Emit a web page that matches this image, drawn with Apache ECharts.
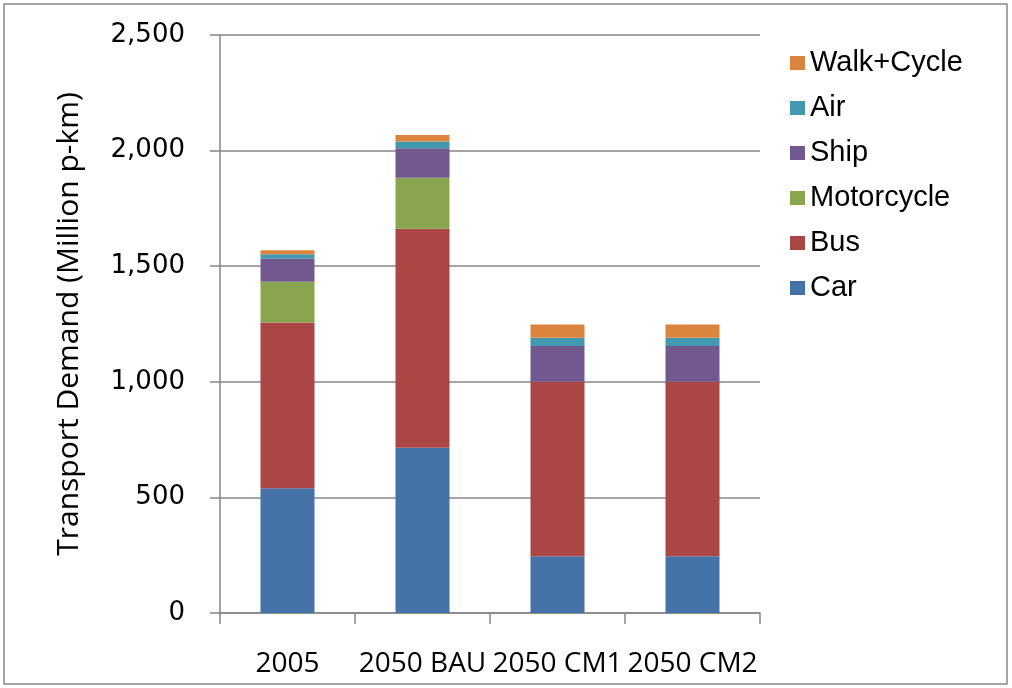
<!DOCTYPE html>
<html>
<head>
<meta charset="utf-8">
<script src="https://cdn.jsdelivr.net/npm/echarts@6/dist/echarts.min.js"></script>
<style>
  html, body { margin: 0; padding: 0; background: #fff; }
  #chart { width: 1012px; height: 688px; }
</style>
</head>
<body>
<div id="chart"></div>
<script>
// scenarios on the x axis
const scenarios = ["2005", "2050 BAU", "2050 CM1", "2050 CM2"];

// transport demand by mode, million p-km
const car = [540, 715, 245, 245];
const bus = [716, 947, 755, 755];
const motorcycle = [177, 221, 0, 0];
const ship = [99, 127, 155, 155];
const air = [20, 29, 36, 36];
const walkCycle = [17, 29, 57, 57];

const modeNames = ["Car", "Bus", "Motorcycle", "Ship", "Air", "Walk+Cycle"];
const modeColors = ["#4572A7", "#AA4643", "#89A54E", "#71588F", "#4198AF", "#DB843D"];
const modeValues = [car, bus, motorcycle, ship, air, walkCycle];

const chart = echarts.init(document.getElementById("chart"));

const series = modeNames.map(function (name, i) {
  return {
    name: name,
    type: "bar",
    stack: "total",
    barWidth: "40%",
    itemStyle: { color: modeColors[i] },
    data: modeValues[i],
  };
});

const option = {
  animation: false,
  backgroundColor: "#fff",
  graphic: [
    {
      type: "rect",
      shape: { x: 4, y: 4, width: 1003, height: 680 },
      style: { fill: "none", stroke: "#888", lineWidth: 1.5 },
      silent: true,
    },
  ],
  legend: {
    orient: "vertical",
    left: 785,
    top: 43,
    icon: "rect",
    itemWidth: 15,
    itemHeight: 14,
    itemGap: 15,
    data: modeNames.slice().reverse(),
    textStyle: {
      fontFamily: "Liberation Sans",
      fontSize: 29,
      color: "#000",
      lineHeight: 30,
    },
  },
  grid: { left: 220, right: 252, top: 35, bottom: 75 },
  xAxis: {
    type: "category",
    data: scenarios,
    axisLine: { lineStyle: { color: "#868686", width: 1.5 } },
    axisTick: { show: true, length: 11, lineStyle: { color: "#868686", width: 1.5 } },
    axisLabel: {
      interval: 0,
      margin: 37,
      color: "#000",
      fontFamily: "Open Sans",
      fontSize: 28,
    },
  },
  yAxis: {
    type: "value",
    min: 0,
    max: 2500,
    interval: 500,
    name: "Transport Demand (Million p-km)",
    nameLocation: "middle",
    nameGap: 136,
    nameTextStyle: { fontFamily: "Open Sans", fontSize: 30, color: "#000" },
    axisLine: { show: true, lineStyle: { color: "#868686", width: 1.5 } },
    axisTick: { show: true, length: 10, lineStyle: { color: "#868686", width: 1.5 } },
    splitLine: { lineStyle: { color: "#868686", width: 1.5 } },
    axisLabel: {
      margin: 35,
      color: "#000",
      fontFamily: "DejaVu Sans",
      fontSize: 26,
      formatter: function (v) {
        return v.toLocaleString("en-US");
      },
    },
  },
  series: series,
};

chart.setOption(option);
</script>
</body>
</html>
